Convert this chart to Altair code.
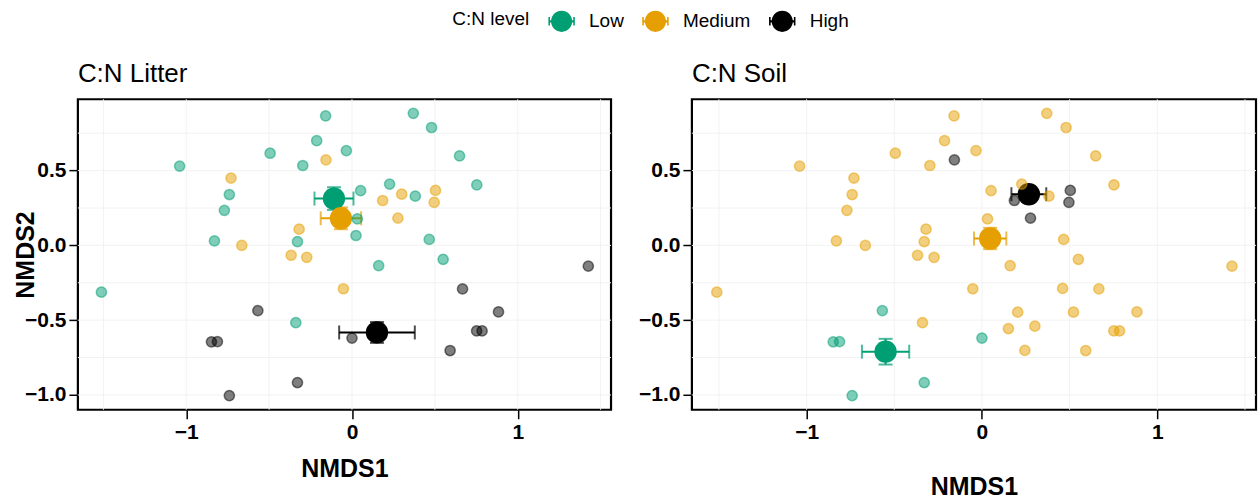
import altair as alt
import pandas as pd

# NMDS scores (one row per sample)
nmds1 = [-1.04, -0.74, -0.77, -0.83, -0.494, -0.297, -0.159, -0.213, -0.034, 0.052,
         0.024, 0.032, -0.329, 0.37, 0.48, 0.649, 0.227, 0.382, 0.753, 0.466,
         0.55, 0.161, -1.512, -0.339,
         -0.73, -0.665, -0.157, -0.319, -0.367, -0.273, 0.185, 0.30, 0.504, 0.496,
         0.277, -0.052,
         -0.568, -0.848, -0.812, -0.74, -0.329, 0.0, 1.426, 0.667, 0.884, 0.752,
         0.785, 0.592,
         0.46, 0.204, 0.522, 0.151, 0.302, 0.245]
nmds2 = [0.53, 0.34, 0.234, 0.03, 0.616, 0.534, 0.866, 0.70, 0.634, 0.366,
         0.066, 0.177, 0.025, 0.883, 0.788, 0.598, 0.41, 0.329, 0.404, 0.04,
         -0.093, -0.135, -0.313, -0.517,
         0.45, 0.0, 0.572, 0.108, -0.066, -0.08, 0.30, 0.342, 0.367, 0.288,
         0.182, -0.29,
         -0.436, -0.645, -0.643, -1.004, -0.917, -0.62, -0.139, -0.291, -0.445, -0.572,
         -0.572, -0.703,
         -0.288, -0.447, -0.447, -0.556, -0.54, -0.702]
litter_level = (["Low"] * 24 + ["Medium"] * 12 + ["High"] * 12 + [None] * 6)
soil_level = (["Medium"] * 24
              + ["Medium", "Medium", "High", "Medium", "Medium", "Medium",
                 "High", "High", "High", "High", "High", "Medium"]
              + ["Low"] * 6 + ["Medium"] * 6
              + ["Medium"] * 6)

levels = ["Low", "Medium", "High"]
level_colors = ["#009E73", "#E69F00", "#000000"]
x_ticks = [-1, 0, 1]
y_ticks = [-1.0, -0.5, 0.0, 0.5]
x_grid = [-1.5, -1, -0.5, 0, 0.5, 1, 1.5]
y_grid = [-0.75, -0.5, -0.25, 0.0, 0.25, 0.5, 0.75, -1.0]
x_domain = [-1.654, 1.563]
y_domain = [-1.099, 0.977]

df = pd.DataFrame({"x": nmds1, "y": nmds2, "litter": litter_level, "soil": soil_level})
gx = pd.DataFrame({"gx": x_grid})
gy = pd.DataFrame({"gy": y_grid})

FONT = "Liberation Sans"
cscale = alt.Scale(domain=levels, range=level_colors)
xs = alt.Scale(domain=x_domain, nice=False, zero=False)
ys = alt.Scale(domain=y_domain, nice=False, zero=False)

legend_symbol = ("M-1,-0.09H1V0.09H-1Z "
                 "M-1,-0.32H-0.88V0.32H-1Z M0.88,-0.32H1V0.32H0.88Z "
                 "M0,-0.8A0.8,0.8 0 1,1 0,0.8A0.8,0.8 0 1,1 0,-0.8Z")

legend = alt.Legend(orient="none", legendX=375, legendY=-92,
                    direction="horizontal", titleOrient="left",
                    symbolType=legend_symbol, symbolSize=700,
                    symbolStrokeWidth=0, symbolOpacity=1,
                    labelFontSize=19, titleFontSize=19,
                    titleFontWeight="normal", labelFont=FONT,
                    titleFont=FONT, labelColor="black",
                    titleColor="black", labelOffset=14,
                    columnPadding=18, titlePadding=18,
                    titleBaseline="middle")
col = alt.Color("level:N", scale=cscale, title="C:N level", legend=legend)


def panel(field, title, w, h, xpad, ytitle):
    xaxis = alt.Axis(values=x_ticks, format="d", title="NMDS1", titlePadding=xpad,
                     labelExpr="replace(datum.label, '-', '\u2212')")
    if ytitle:
        yaxis = alt.Axis(values=y_ticks, format=".1f", title="NMDS2",
                         titleX=-52, titleY=h / 2, titleAlign="center",
                         titleBaseline="middle", titleAngle=-90,
                         labelExpr="replace(datum.label, '-', '\u2212')")
    else:
        yaxis = alt.Axis(values=y_ticks, format=".1f", title=None,
                         labelExpr="replace(datum.label, '-', '\u2212')")
    X = lambda f: alt.X(f, scale=xs, axis=xaxis)
    Y = lambda f: alt.Y(f, scale=ys, axis=yaxis)

    vgrid = alt.Chart(gx).mark_rule(color="#F2F2F2", strokeWidth=1).encode(x=X("gx:Q"))
    hgrid = alt.Chart(gy).mark_rule(color="#F2F2F2", strokeWidth=1).encode(y=Y("gy:Q"))

    base = (alt.Chart(df)
            .transform_filter(f"isValid(datum.{field})")
            .transform_calculate(level=f"datum.{field}"))
    agg = (base.transform_aggregate(mx="mean(x)", sx="stderr(x)", my="mean(y)",
                                    sy="stderr(y)", groupby=["level"])
           .transform_calculate(xlo="datum.mx - datum.sx", xhi="datum.mx + datum.sx",
                                ylo="datum.my - datum.sy", yhi="datum.my + datum.sy"))

    hbar = agg.mark_rule(strokeWidth=2).encode(x=X("xlo:Q"), x2="xhi:Q", y=Y("my:Q"), color=col)
    hcap1 = agg.mark_tick(orient="vertical", size=14, thickness=2).encode(x=X("xlo:Q"), y=Y("my:Q"), color=col)
    hcap2 = agg.mark_tick(orient="vertical", size=14, thickness=2).encode(x=X("xhi:Q"), y=Y("my:Q"), color=col)
    vbar = agg.mark_rule(strokeWidth=2).encode(y=Y("ylo:Q"), y2="yhi:Q", x=X("mx:Q"), color=col)
    vcap1 = agg.mark_tick(orient="horizontal", size=14, thickness=2).encode(x=X("mx:Q"), y=Y("ylo:Q"), color=col)
    vcap2 = agg.mark_tick(orient="horizontal", size=14, thickness=2).encode(x=X("mx:Q"), y=Y("yhi:Q"), color=col)

    cent = agg.mark_circle(size=500, opacity=1).encode(x=X("mx:Q"), y=Y("my:Q"), color=col)

    pts = base.mark_circle(size=105, fillOpacity=0.5, strokeOpacity=0.5, strokeWidth=1.5).encode(
        x=X("x:Q"), y=Y("y:Q"), color=col,
        stroke=alt.Stroke("level:N", scale=cscale, legend=None))

    return alt.layer(vgrid, hgrid, hbar, hcap1, hcap2, vbar, vcap1, vcap2, cent, pts).properties(
        width=w, height=h,
        title=alt.Title(title, anchor="start", frame="group", fontSize=26,
                        fontWeight="normal", font=FONT, color="black", offset=12))


left = panel("litter", "C:N Litter", 534, 311, 14, True)
right = panel("soil", "C:N Soil", 565, 311, 32, False)

chart = (alt.hconcat(left, right, spacing=24)
         .resolve_scale(color="shared")
         .properties(padding={"left": 12, "top": 7, "right": 0, "bottom": 0})
         .configure_view(stroke="black", strokeWidth=2.2)
         .configure_axis(labelFont=FONT, titleFont=FONT, labelFontSize=21,
                         labelFontWeight="bold", labelColor="black",
                         titleFontSize=25, titleFontWeight="bold", titleColor="black",
                         tickColor="black", tickSize=9, tickWidth=1.5,
                         domain=False, grid=False, labelPadding=3))

chart.save("out.html", embed_options={"renderer": "svg", "actions": False})
